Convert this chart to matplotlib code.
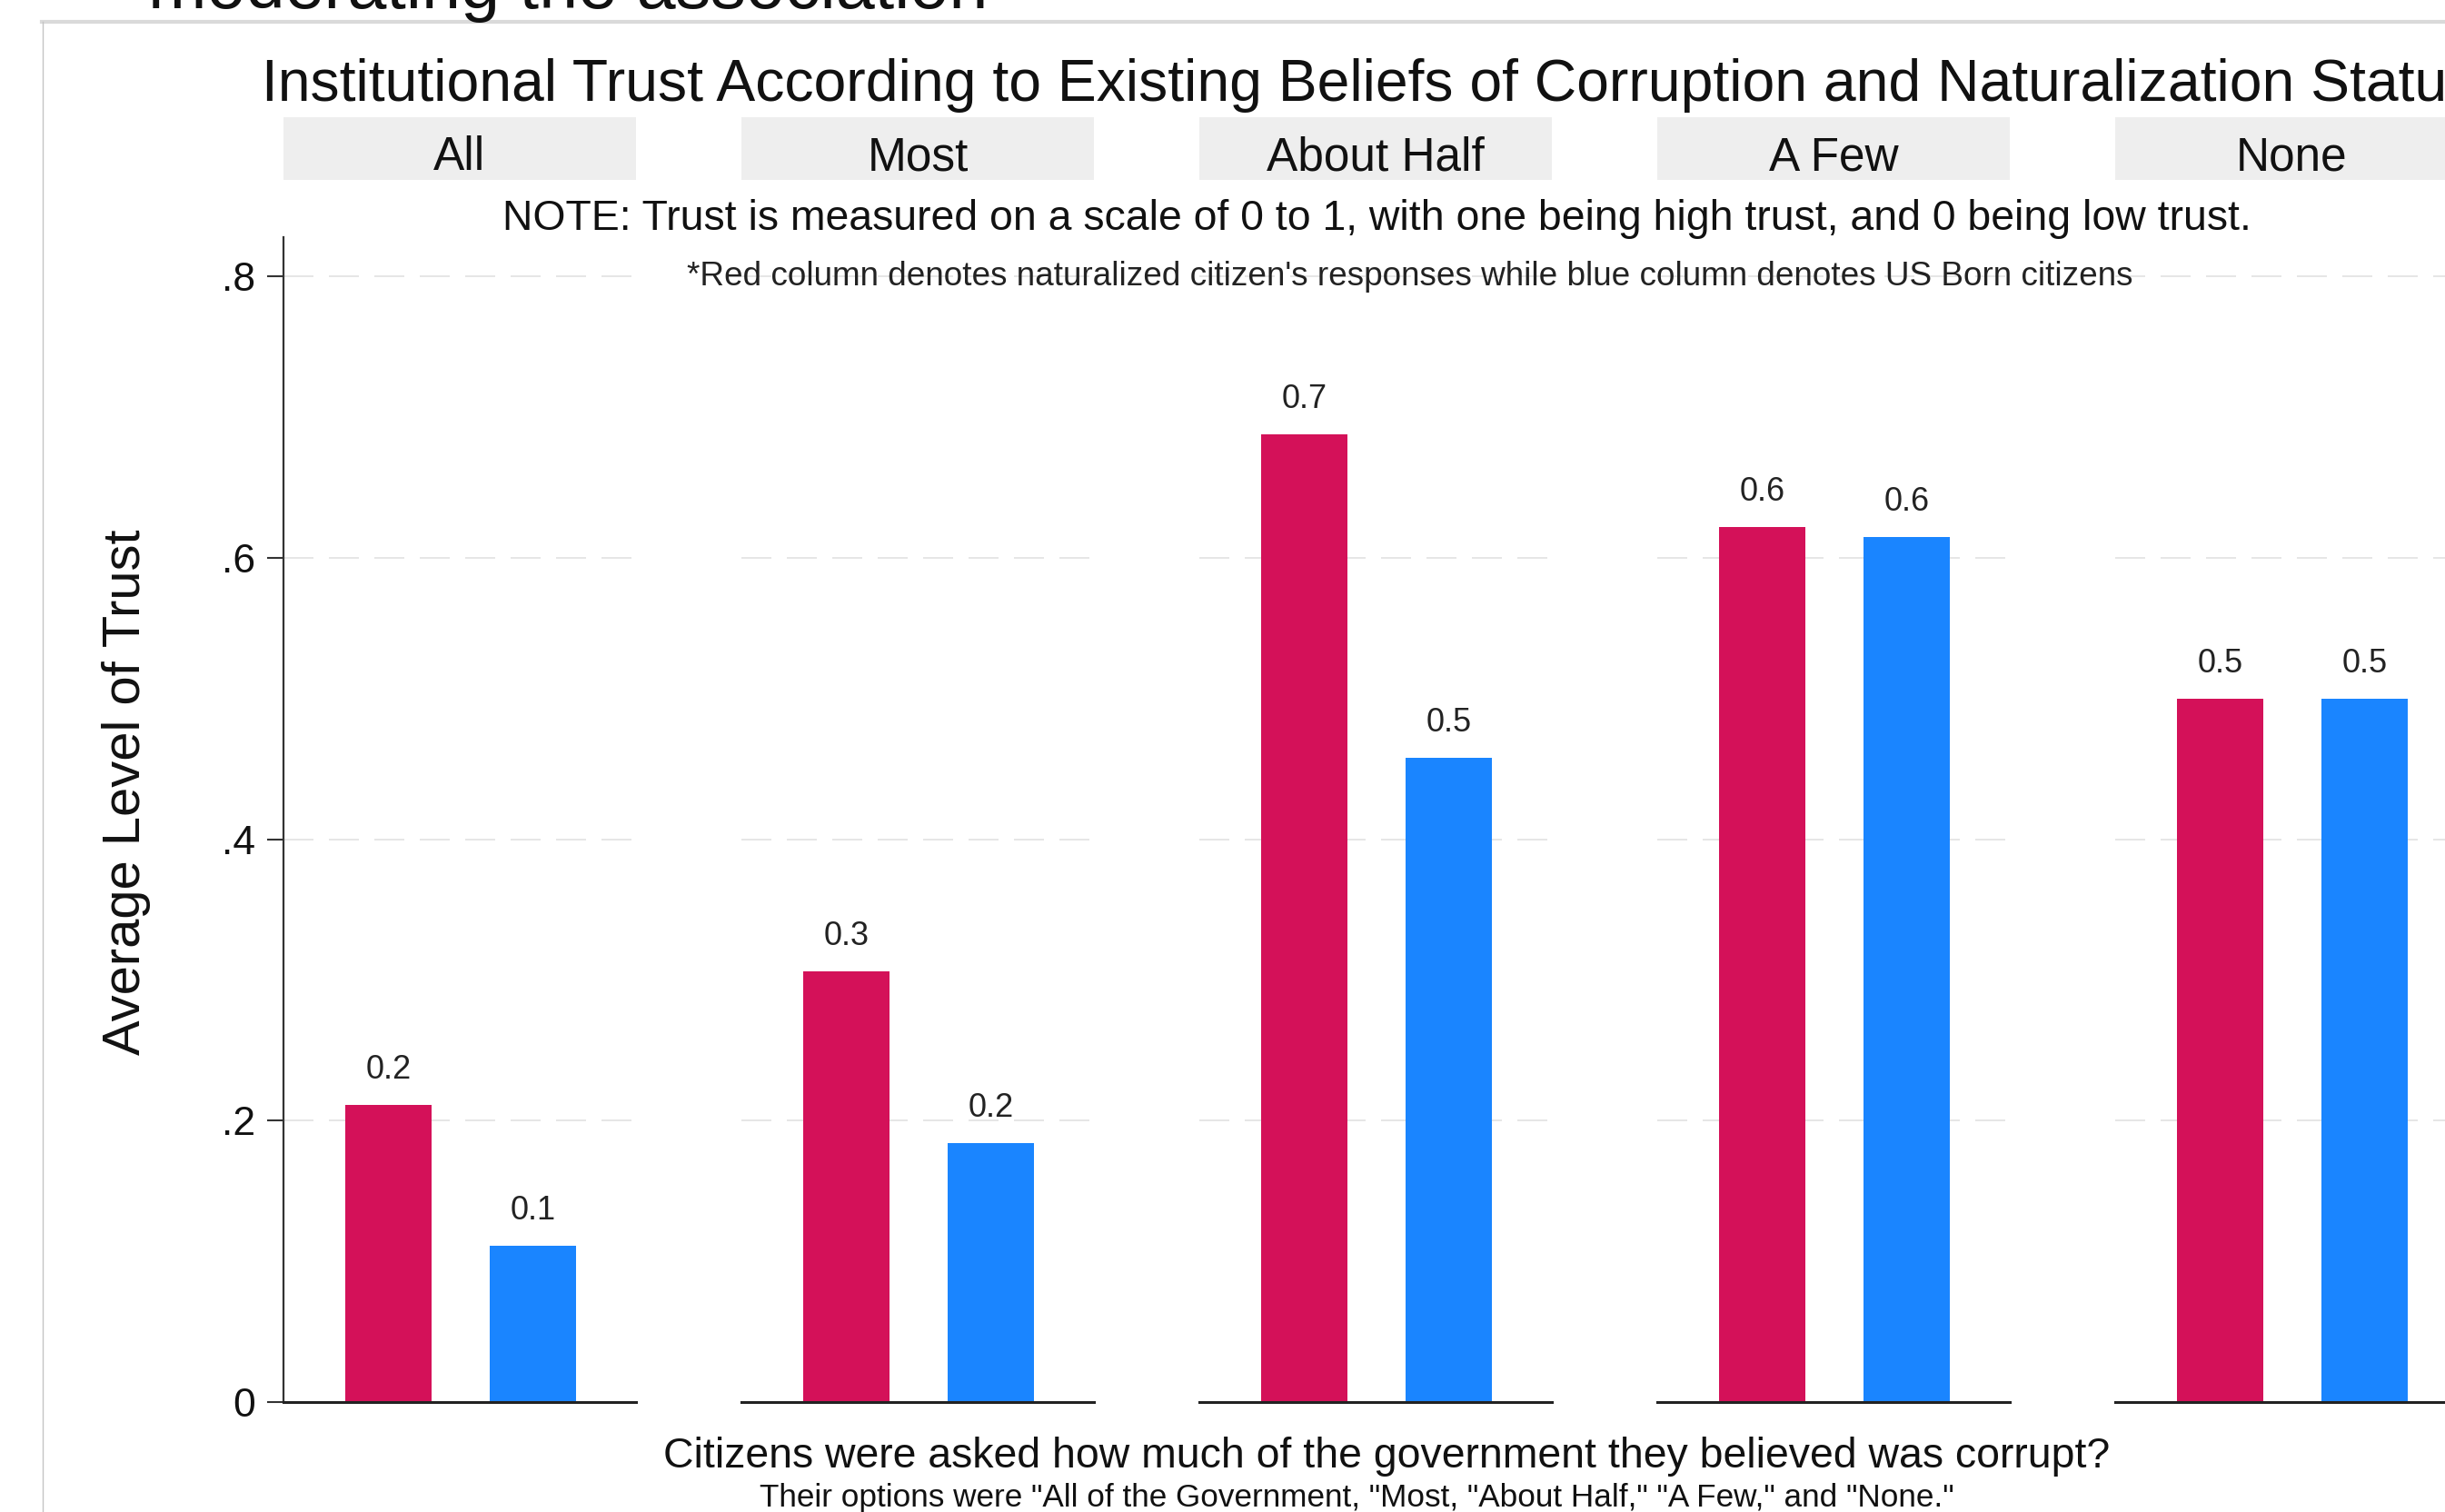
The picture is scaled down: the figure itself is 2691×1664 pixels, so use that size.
import matplotlib
matplotlib.use("Agg")
import matplotlib.pyplot as plt
from matplotlib.lines import Line2D
from matplotlib.patches import Rectangle

plt.rcParams["font.family"] = ["Liberation Sans", "DejaVu Sans"]

W, H = 2691, 1664
DPI = 100

categories = ["All", "Most", "About Half", "A Few", "None"]
naturalized = [0.211, 0.306, 0.688, 0.622, 0.500]
us_born = [0.111, 0.184, 0.458, 0.615, 0.500]
y_ticks = [0, 0.2, 0.4, 0.6, 0.8]
y_tick_labels = ["0", ".2", ".4", ".6", ".8"]

RED = "#D41159"
BLUE = "#1A85FF"
GRID = "#E6E6E6"
STRIP = "#EEEEEE"

fig = plt.figure(figsize=(W / DPI, H / DPI), dpi=DPI)
fig.patch.set_facecolor("white")
renderer = fig.canvas.get_renderer()


def fx(px):
    return px / W


def fy(py):
    return 1 - py / H


def fit_text(x, y, s, width, **kw):
    # scale the font so the drawn text spans `width` pixels
    t = fig.text(fx(x), fy(y), s, fontsize=20, **kw)
    bb = t.get_window_extent(renderer)
    size = bb.height if kw.get("rotation", 0) == 90 else bb.width
    t.set_fontsize(20 * width / size)
    return t


# window frame of the screenshot
fig.add_artist(Line2D([fx(46), 1], [fy(24), fy(24)], color="#DADADA", lw=3,
                      transform=fig.transFigure))
fig.add_artist(Line2D([fx(47), fx(47)], [fy(24), 0], color="#C4C4C4", lw=1,
                      transform=fig.transFigure))
fit_text(163, 9, "moderating the association", 922, ha="left", va="baseline",
         color="#111111")

# panels
panel_left = 312
panel_step = 504
panel_w = 388
plot_top = 261
plot_bottom = 1543

for i, cat in enumerate(categories):
    left = panel_left + i * panel_step
    ax = fig.add_axes([fx(left), fy(plot_bottom), panel_w / W,
                       (plot_bottom - plot_top) / H])
    vals = [naturalized[i], us_born[i]]
    ax.bar([0, 1], vals, width=0.6, color=[RED, BLUE], zorder=2)
    for x, v in zip([0, 1], vals):
        ax.annotate(f"{v:.1f}", (x, v), xytext=(0, 21), textcoords="offset points",
                    ha="center", va="baseline", fontsize=26, color="#222222")
    for y in y_ticks[1:]:
        ax.axhline(y, color=GRID, lw=1.44, ls=(0, (16.5, 8.5)), zorder=1)
    ax.set_xlim(-0.725, 1.715)
    ax.set_ylim(0, 0.828)
    ax.set_xticks([])
    for side in ["top", "right"]:
        ax.spines[side].set_visible(False)
    ax.spines["bottom"].set_color("#222222")
    ax.spines["bottom"].set_linewidth(2.2)
    if i == 0:
        ax.spines["left"].set_color("#333333")
        ax.spines["left"].set_linewidth(1.6)
        ax.set_yticks(y_ticks)
        ax.set_yticklabels(y_tick_labels)
        ax.tick_params(axis="y", length=13, width=1.5, pad=9, labelsize=32,
                       color="#333333", labelcolor="#111111")
    else:
        ax.spines["left"].set_visible(False)
        ax.set_yticks([])
    ax.set_facecolor("none")

    # strip header
    fig.add_artist(Rectangle((fx(left), fy(198)), panel_w / W, 69 / H,
                             facecolor=STRIP, edgecolor="none",
                             transform=fig.transFigure))
    fig.text(fx(left + panel_w / 2), fy(187), cat, ha="center", va="baseline",
             fontsize=37, color="#111111")

# titles and notes
fit_text(288, 111, "Institutional Trust According to Existing Beliefs of "
         "Corruption and Naturalization Status", 2428, ha="left", va="baseline",
         color="#111111")
fit_text(1515, 253, "NOTE: Trust is measured on a scale of 0 to 1, with one being "
         "high trust, and 0 being low trust.", 1922, ha="center", va="baseline",
         color="#111111")
fit_text(1552, 314, "*Red column denotes naturalized citizen's responses while blue "
         "column denotes US Born citizens", 1588, ha="center", va="baseline",
         color="#222222")
fit_text(139, 872, "Average Level of Trust", 577, rotation=90, ha="center",
         va="center", color="#111111")
fit_text(1526, 1615, "Citizens were asked how much of the government they believed "
         "was corrupt?", 1587, ha="center", va="baseline", color="#111111")
fit_text(1493, 1658, "Their options were \"All of the Government, \"Most, \"About Half,\" "
         "\"A Few,\" and \"None.\"", 1314, ha="center", va="baseline", color="#111111")

fig.savefig("out.png", dpi=DPI)
